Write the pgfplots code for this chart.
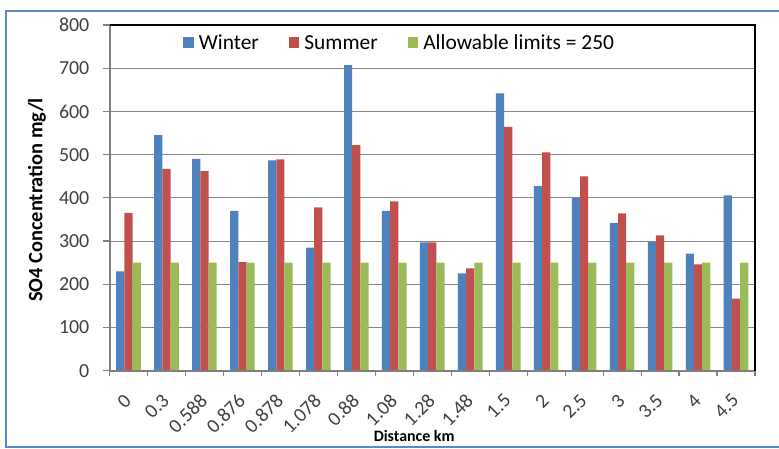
\documentclass[border=0pt]{standalone}
\usepackage{fontspec}
\setmainfont{Carlito}
\usepackage{pgfplots}
\pgfplotsset{compat=1.18}
\usepackage{pgfplotstable}

\definecolor{winterblue}{HTML}{4F81BD}
\definecolor{summerred}{HTML}{C0504D}
\definecolor{limitgreen}{HTML}{9BBB59}
\definecolor{gridgray}{HTML}{868686}
\definecolor{axisgray}{HTML}{7F7F7F}
\definecolor{frameblue}{HTML}{5A8AC6}
\definecolor{ticktext}{HTML}{404040}

% SO4 concentration (mg/l) at each sampling distance
\pgfplotstableread{
idx dist  winter summer limit
0   0     230    365    250
1   0.3   545    467    250
2   0.588 490    462    250
3   0.876 370    251    250
4   0.878 487    489    250
5   1.078 285    378    250
6   0.88  707    522    250
7   1.08  370    392    250
8   1.28  297    297    250
9   1.48  225    237    250
10  1.5   642    564    250
11  2     427    505    250
12  2.5   400    450    250
13  3     342    364    250
14  3.5   298    313    250
15  4     271    246    250
16  4.5   406    167    250
}\sotable

\begin{document}
\begin{tikzpicture}[x=1bp,y=1bp]
% chart area frame
\draw[frameblue, line width=1.5bp] (6,-11) rectangle (800,-447);

\begin{axis}[
  at={(109.5bp,-370.7bp)}, anchor=south west,
  scale only axis,
  width=645.5bp, height=345.7bp,
  ybar=0pt, bar width=8.2bp,
  xmin=-0.5, xmax=16.5,
  ymin=0, ymax=800,
  ytick={0,100,...,800},
  xtick={0,...,16},
  xticklabels={0,0.3,0.588,0.876,0.878,1.078,0.88,1.08,1.28,1.48,1.5,2,2.5,3,3.5,4,4.5},
  minor xtick={-0.5,0.5,...,16.5},
  tick align=outside,
  tick pos=left,
  major tick length=7bp,
  minor tick length=5bp,
  major x tick style={draw=none},
  minor x tick style={axisgray, line width=1.2bp},
  major y tick style={axisgray, line width=1.2bp},
  ymajorgrids,
  major grid style={gridgray, line width=1.1bp},
  axis line style={draw=none},
  /pgf/number format/assume math mode=true,
  ticklabel style={font=\fontsize{20}{22}\selectfont, text=ticktext},
  yticklabel style={anchor=east, inner sep=0pt, xshift=-13bp},
  xticklabel style={yshift=-19.5bp, xshift=-0.5bp, anchor=east, rotate=45, inner sep=0pt},
  xlabel={Distance km},
  ylabel={SO4 Concentration mg/l},
  xlabel style={font=\bfseries\fontsize{16}{18}\selectfont, at={(axis description cs:0.472,-0.188)}, anchor=center},
  ylabel style={font=\bfseries\fontsize{20.5}{22}\selectfont, at={(axis description cs:-0.1123,0.494)}, anchor=center},
  legend style={at={(0.114,0.948)}, anchor=west, draw=none, fill=none,
    font=\fontsize{21.5}{23}\selectfont, inner sep=0pt,
    nodes={inner sep=5bp},
    /tikz/every even column/.append style={column sep=25bp}},
  legend columns=3,
  legend image code/.code={\fill[#1] (0bp,-5bp) rectangle (10.5bp,5.5bp);},
  clip=false,
]
\addplot[fill=winterblue, draw=none] table[x=idx, y=winter] {\sotable};
\addplot[fill=summerred, draw=none] table[x=idx, y=summer] {\sotable};
\addplot[fill=limitgreen, draw=none] table[x=idx, y=limit] {\sotable};
\legend{Winter, Summer, Allowable limits = 250}
% plot area border: gray axes, black top and right
\draw[axisgray, line width=2bp] (rel axis cs:0,1) -- (rel axis cs:0,0) -- (rel axis cs:1,0);
\draw[black, line width=2.5bp] (rel axis cs:0,1) -- (rel axis cs:1,1) -- (rel axis cs:1,0);
\end{axis}

\pgfresetboundingbox
\path[use as bounding box] (0,0) rectangle (779,-449);
\end{tikzpicture}
\end{document}
